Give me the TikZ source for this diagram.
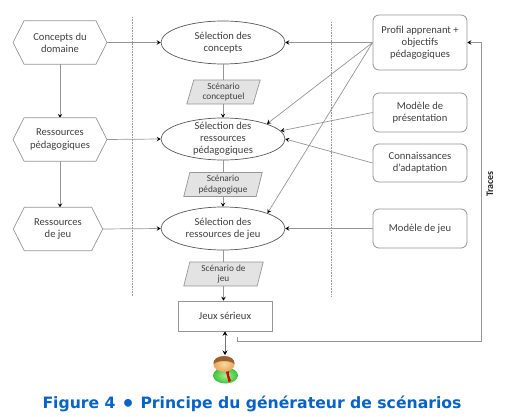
\documentclass[tikz,border=0pt]{standalone}
\usepackage{fontspec}
\setmainfont{Carlito}
\newfontfamily\titlefont{DejaVu Sans}
\usetikzlibrary{arrows.meta,calc,shapes.geometric}
\definecolor{txt}{HTML}{404040}
\definecolor{ln}{HTML}{969696}
\definecolor{blue4}{HTML}{0863C6}
\definecolor{bodyg}{HTML}{3CC23A}
\definecolor{bodyl}{HTML}{A8F090}
\definecolor{skin}{HTML}{E8A45C}
\definecolor{skinl}{HTML}{F8D8A0}
\definecolor{hair}{HTML}{9A6030}
\tikzset{
  lbl/.style={text=txt,font=\fontsize{10.6}{12.2}\selectfont,align=center,inner sep=0pt},
  small/.style={text=txt,font=\fontsize{9.3}{10.6}\selectfont,align=center,inner sep=0pt},
  hexbox/.style={lbl,minimum width=#1,minimum height=43pt},
  ell/.style={draw=black!65,line width=0.7pt,shape=ellipse,minimum width=124pt,minimum height=43pt,inner sep=0pt},
  para/.style={small,minimum height=23.5pt},
  round/.style={lbl,draw=ln,line width=0.8pt,rounded corners=6pt,minimum width=94pt},
  conn/.style={draw=ln,line width=0.7pt},
  arr/.style={conn,-{Stealth[length=4pt,width=4.5pt,inset=1.6pt,black]}},
  dbl/.style={draw=black!55,line width=0.7pt,{Stealth[length=4.5pt,width=5pt,inset=1.6pt,black]}-{Stealth[length=4.5pt,width=5pt,inset=1.6pt,black]}},
  vline/.style={draw=gray!80,densely dotted,line width=0.6pt},
  outline/.style={draw=ln,line width=0.7pt,fill=white},
  paraoutline/.style={draw=ln,line width=0.7pt,fill=gray!22}
}
\newcommand{\HexOutline}[2]{\draw[outline] (#1.west) -- ($(#1.north west)+(#2,0)$) -- ($(#1.north east)+(-#2,0)$) -- (#1.east) -- ($(#1.south east)+(-#2,0)$) -- ($(#1.south west)+(#2,0)$) -- cycle;}
\newcommand{\ParaOutline}[2]{\draw[paraoutline] ($(#1.south west)$) -- ($(#1.north west)+(#2,0)$) -- (#1.north east) -- ($(#1.south east)+(-#2,0)$) -- cycle;}
\begin{document}
\begin{tikzpicture}[x=1pt,y=-1pt]
\useasboundingbox (0,0) rectangle (512,417);
\fill[white] (0,0) rectangle (512,417);
% dotted separators
\coordinate (d1a) at (132,17); \coordinate (d1b) at (132,296);
\coordinate (d2a) at (331,22); \coordinate (d2b) at (331,296);
\draw[vline] (d1a) -- (d1b);
\draw[vline] (d2a) -- (d2b);
% nodes
\node[hexbox=93.5pt] (h1) at (60,42.5) {Concepts du\\domaine};
\node[hexbox=93.5pt] (h2) at (60,139.5) {Ressources\\pédagogiques};
\node[hexbox=89pt] (h3) at (58,229) {Ressources\\de jeu};
\node[ell,label={[lbl]center:Sélection des\\concepts}] (e1) at (223,42.5) {};
\node[ell,minimum height=42pt,label={[lbl]center:Sélection des\\ressources\\pédagogiques}] (e2) at (223,139) {};
\node[ell,label={[lbl]center:Sélection des\\ressources de jeu}] (e3) at (223,228.5) {};
\node[para,minimum width=73pt] (p1) at (223.5,92) {};
\node[para,minimum width=78pt] (p2) at (223,184.5) {};
\node[para,minimum width=79pt] (p3) at (223.5,274) {};
\node[lbl,draw=ln,line width=0.7pt,minimum width=94pt,minimum height=30pt] (j) at (225,316) {Jeux sérieux};
\node[round,minimum height=55pt] (r1) at (420,42.5) {Profil apprenant +\\objectifs\\pédagogiques};
\node[round,minimum height=39pt] (r2) at (420,112.5) {Modèle de\\présentation};
\node[round,minimum height=38pt] (r3) at (420,163) {Connaissances\\d'adaptation};
\node[round,minimum height=39pt] (r4) at (420,228.5) {Modèle de jeu};
\coordinate (t0) at (237,337);
\coordinate (t1) at (237,341);
\coordinate (t2) at (481,341);
\coordinate (t3) at (481,42.5);
\coordinate (u) at (225,355);
% connectors
\draw[arr] (h1) -- (h2);
\draw[arr] (h2) -- (h3.north -| h2);
\draw[arr] (h1.east) -- (e1.west);
\draw[arr] (h2.east) -- (e2.west);
\draw[arr] (h3.east) -- (e3.west);
\draw[conn] (e1.south) -- (p1.north -| e1);
\draw[arr] (p1.south -| e1) -- (e2.north);
\draw[conn] (e2.south) -- (p2.north);
\draw[arr] (p2.south) -- (e3.north);
\draw[conn] (e3.south) -- (p3.north -| e3);
\draw[arr] (p3.south) -- (p3.south |- j.north);
\draw[dbl] (j.south) -- (u);
\draw[arr] (r1.west) -- (e1.east);
\draw[arr] (r1.west) -- (e2.19);
\draw[arr] (r1.west) -- (e3.19);
\draw[arr] (r2.west) -- (e2.8);
\draw[arr] (r3.west) -- (e2.east);
\draw[arr] (r4.west) -- (e3.east);
\draw[arr] (t0) -- (t1) -- (t2) -- (t3) -- (r1.east);
% outlines on top of lines
\HexOutline{h1}{11}
\HexOutline{h2}{11}
\HexOutline{h3}{11}
\node[hexbox=93.5pt] at (h1) {Concepts du\\domaine};
\node[hexbox=93.5pt] at (h2) {Ressources\\pédagogiques};
\node[hexbox=89pt] at (h3) {Ressources\\de jeu};
\ParaOutline{p1}{7}
\ParaOutline{p2}{6}
\ParaOutline{p3}{6}
\node[small] at (p1) {Scénario\\conceptuel};
\node[small] at (p2) {Scénario\\pédagogique};
\node[small] at (p3) {Scénario de\\jeu};
% traces label
\node[rotate=90,text=black!85,font=\fontsize{10}{11}\selectfont\bfseries,inner sep=0pt] (tr) at (490,184) {Traces};
% user figure
\shade[inner color=bodyl,outer color=bodyg] (225.5,375.5) ellipse (12.5pt and 8pt);
\fill[red!85!black] (225.5,370) -- (229.5,370) -- (228.7,374) -- (231,381) -- (228.5,382) -- (226.5,374) -- cycle;
\shade[inner color=skinl,outer color=skin] (224,364) ellipse (10.5pt and 8pt);
\fill[hair] (213.5,364) .. controls (212,353.5) and (236,353.5) .. (234.5,364) .. controls (230,360) and (218,360) .. (213.5,364) -- cycle;
% title
\node[text=blue4,font=\titlefont\bfseries\fontsize{15.65}{18}\selectfont,inner sep=0pt] (title) at (252,403.5) {Figure 4 \raisebox{-3.6pt}[0pt][0pt]{\fontsize{22}{22}\selectfont •} Principe du générateur de scénarios};
\end{tikzpicture}
\end{document}
